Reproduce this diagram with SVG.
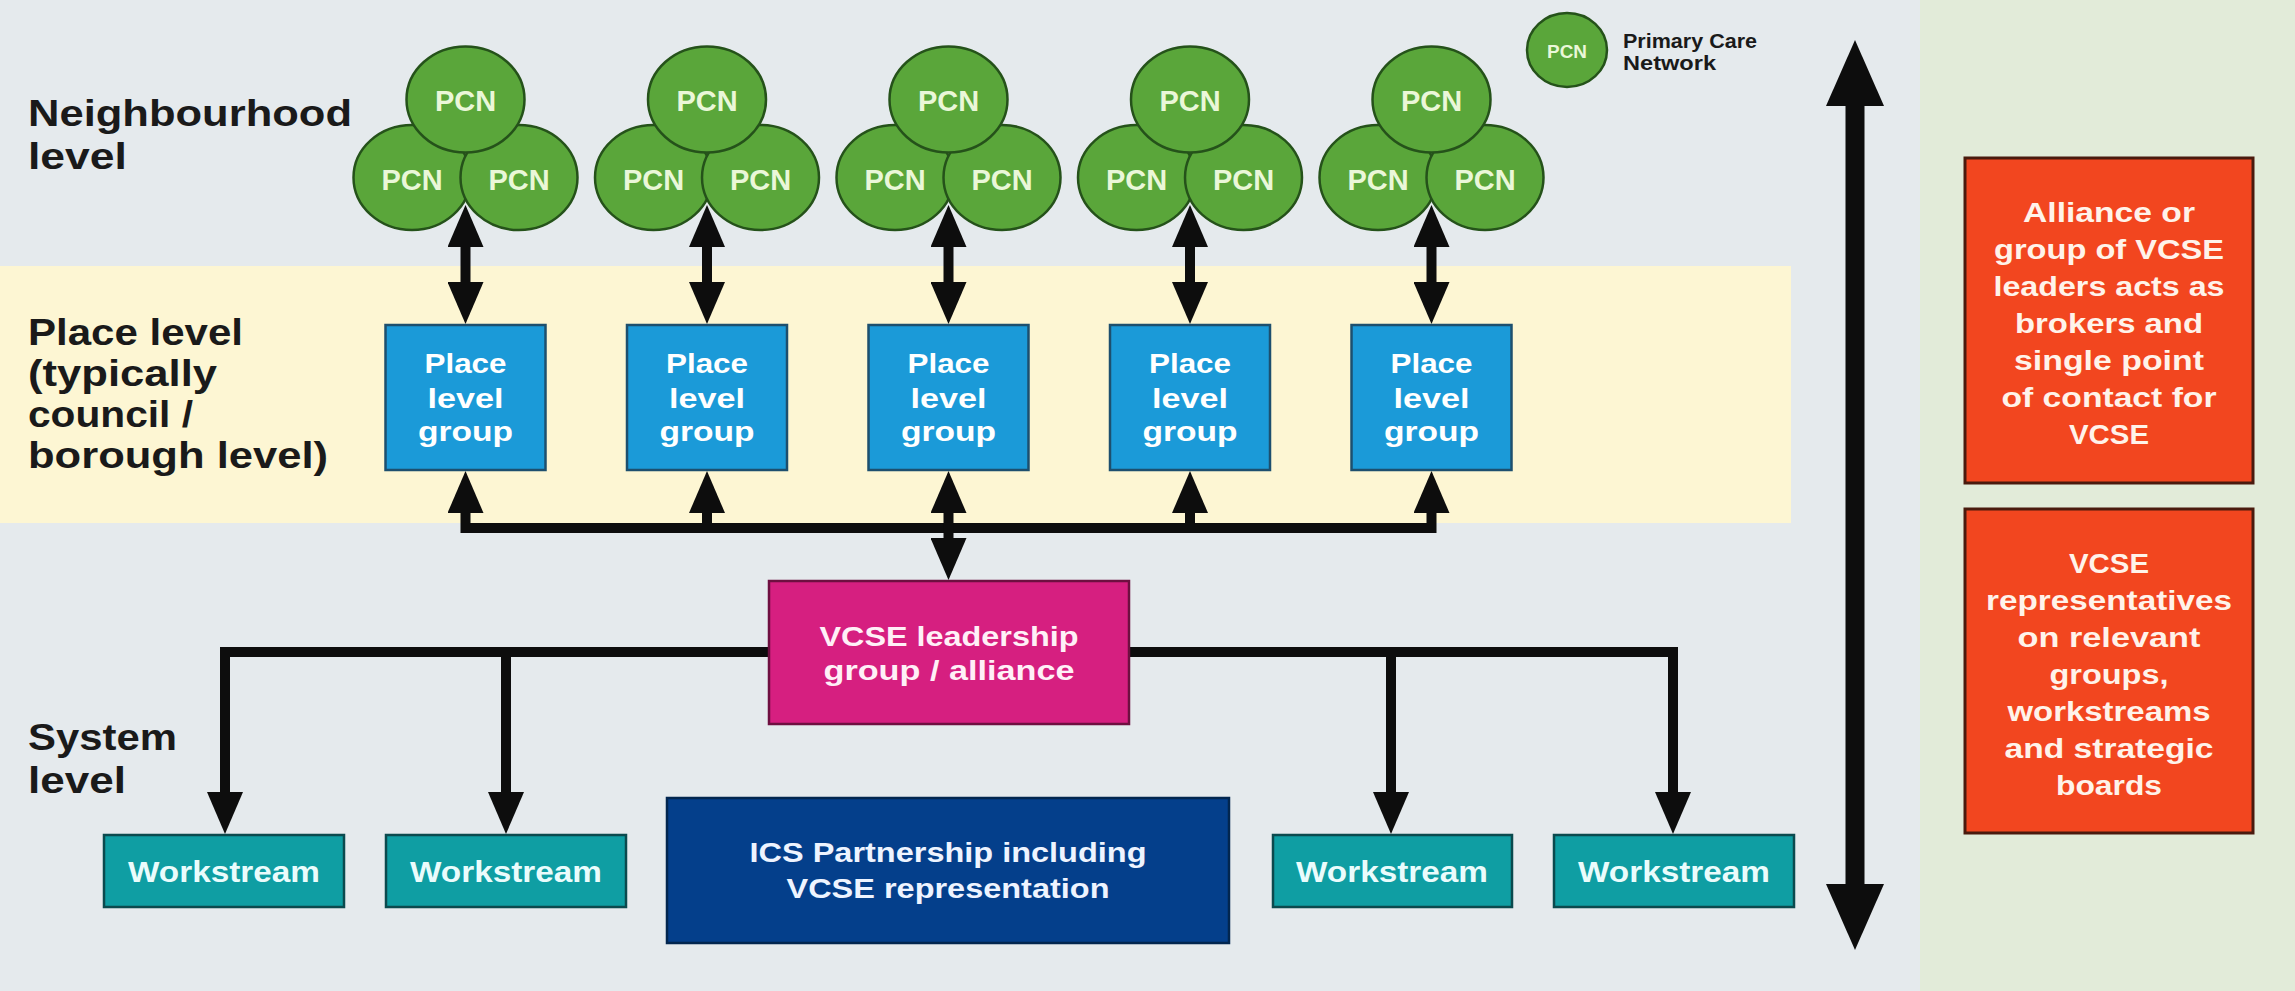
<svg xmlns="http://www.w3.org/2000/svg" width="2295" height="991" viewBox="0 0 2295 991">
<style>
text{font-family:"Liberation Sans",Arial,sans-serif;font-weight:bold}
.lbl{font-size:36px;fill:#1a1a1a}
.pcn ellipse{fill:#5aa63a;stroke:#25521a;stroke-width:2.5}
.pcn text{font-size:29px;fill:#eaf7d8;text-anchor:middle}
.place rect{fill:#1b9ad8;stroke:#1d4f6e;stroke-width:2.5}
.place text{font-size:28px;fill:#ffffff;text-anchor:middle}
.ws rect{fill:#0f9ea3;stroke:#0b4a4e;stroke-width:2.5}
.ws text{font-size:30px;fill:#eafcfc;text-anchor:middle}
.orange rect{fill:#f2461f;stroke:#4a1a0e;stroke-width:3}
.orange text{font-size:27px;fill:#fff3ea;text-anchor:middle}
.conn{fill:none;stroke:#0d0d0d;stroke-width:10;stroke-linejoin:miter}
</style>
<defs>
<marker id="ah" viewBox="0 0 42 36" refX="1" refY="18" markerWidth="42" markerHeight="36" markerUnits="userSpaceOnUse" orient="auto-start-reverse"><path d="M0,0 L42,18 L0,36 z" fill="#0d0d0d"/></marker>
<marker id="ahBig" viewBox="0 0 66 58" refX="1" refY="29" markerWidth="66" markerHeight="58" markerUnits="userSpaceOnUse" orient="auto-start-reverse"><path d="M0,0 L66,29 L0,58 z" fill="#0d0d0d"/></marker>
</defs>
<g id="background">
<rect x="0" y="0" width="2295" height="991" fill="#e5eaed"/>
<rect x="1920" y="0" width="375" height="991" fill="#e2ebd9"/>
<rect x="0" y="266" width="1791" height="257" fill="#fdf6d3"/>
</g>
<g id="level-labels">
<text class="lbl" x="28" y="126" textLength="324" lengthAdjust="spacingAndGlyphs">Neighbourhood</text>
<text class="lbl" x="28" y="169" textLength="99" lengthAdjust="spacingAndGlyphs">level</text>
<text class="lbl" x="28" y="345" textLength="215" lengthAdjust="spacingAndGlyphs">Place level</text>
<text class="lbl" x="28" y="386" textLength="189" lengthAdjust="spacingAndGlyphs">(typically</text>
<text class="lbl" x="28" y="427" textLength="165" lengthAdjust="spacingAndGlyphs">council /</text>
<text class="lbl" x="28" y="468" textLength="300" lengthAdjust="spacingAndGlyphs">borough level)</text>
<text class="lbl" x="28" y="750" textLength="149" lengthAdjust="spacingAndGlyphs">System</text>
<text class="lbl" x="28" y="793" textLength="98" lengthAdjust="spacingAndGlyphs">level</text>
</g>
<g id="legend" class="pcn">
<ellipse cx="1567" cy="50" rx="40" ry="37"/>
<text x="1567" y="58" style="font-size:18px" textLength="40" lengthAdjust="spacingAndGlyphs">PCN</text>
<text x="1623" y="48" style="font-size:21px;fill:#1a1a1a;text-anchor:start" textLength="134" lengthAdjust="spacingAndGlyphs">Primary Care</text>
<text x="1623" y="70" style="font-size:21px;fill:#1a1a1a;text-anchor:start" textLength="93" lengthAdjust="spacingAndGlyphs">Network</text>
</g>
<g id="pcn-cluster-1" class="pcn">
<ellipse cx="412" cy="177.5" rx="58.5" ry="52.5"/><text x="412" y="190">PCN</text>
<ellipse cx="519" cy="177.5" rx="58.5" ry="52.5"/><text x="519" y="190">PCN</text>
<ellipse cx="465.5" cy="99.5" rx="59" ry="53"/><text x="465.5" y="110.5">PCN</text>
</g>
<g id="pcn-cluster-2" class="pcn">
<ellipse cx="653.5" cy="177.5" rx="58.5" ry="52.5"/><text x="653.5" y="190">PCN</text>
<ellipse cx="760.5" cy="177.5" rx="58.5" ry="52.5"/><text x="760.5" y="190">PCN</text>
<ellipse cx="707" cy="99.5" rx="59" ry="53"/><text x="707" y="110.5">PCN</text>
</g>
<g id="pcn-cluster-3" class="pcn">
<ellipse cx="895" cy="177.5" rx="58.5" ry="52.5"/><text x="895" y="190">PCN</text>
<ellipse cx="1002" cy="177.5" rx="58.5" ry="52.5"/><text x="1002" y="190">PCN</text>
<ellipse cx="948.5" cy="99.5" rx="59" ry="53"/><text x="948.5" y="110.5">PCN</text>
</g>
<g id="pcn-cluster-4" class="pcn">
<ellipse cx="1136.5" cy="177.5" rx="58.5" ry="52.5"/><text x="1136.5" y="190">PCN</text>
<ellipse cx="1243.5" cy="177.5" rx="58.5" ry="52.5"/><text x="1243.5" y="190">PCN</text>
<ellipse cx="1190" cy="99.5" rx="59" ry="53"/><text x="1190" y="110.5">PCN</text>
</g>
<g id="pcn-cluster-5" class="pcn">
<ellipse cx="1378" cy="177.5" rx="58.5" ry="52.5"/><text x="1378" y="190">PCN</text>
<ellipse cx="1485" cy="177.5" rx="58.5" ry="52.5"/><text x="1485" y="190">PCN</text>
<ellipse cx="1431.5" cy="99.5" rx="59" ry="53"/><text x="1431.5" y="110.5">PCN</text>
</g>
<g id="connectors">
<line class="conn" x1="465.5" y1="246" x2="465.5" y2="283" marker-start="url(#ah)" marker-end="url(#ah)"/>
<line class="conn" x1="707" y1="246" x2="707" y2="283" marker-start="url(#ah)" marker-end="url(#ah)"/>
<line class="conn" x1="948.5" y1="246" x2="948.5" y2="283" marker-start="url(#ah)" marker-end="url(#ah)"/>
<line class="conn" x1="1190" y1="246" x2="1190" y2="283" marker-start="url(#ah)" marker-end="url(#ah)"/>
<line class="conn" x1="1431.5" y1="246" x2="1431.5" y2="283" marker-start="url(#ah)" marker-end="url(#ah)"/>
<path class="conn" d="M465.5,512 V528 H1431.5 V512" marker-start="url(#ah)" marker-end="url(#ah)"/>
<line class="conn" x1="707" y1="528" x2="707" y2="512" marker-end="url(#ah)"/>
<line class="conn" x1="1190" y1="528" x2="1190" y2="512" marker-end="url(#ah)"/>
<line class="conn" x1="948.5" y1="512" x2="948.5" y2="539" marker-start="url(#ah)" marker-end="url(#ah)"/>
<path class="conn" d="M225,793 V652 H1673 V793" marker-start="url(#ah)" marker-end="url(#ah)"/>
<line class="conn" x1="506" y1="652" x2="506" y2="793" marker-end="url(#ah)"/>
<line class="conn" x1="1391" y1="652" x2="1391" y2="793" marker-end="url(#ah)"/>
<line class="conn" style="stroke-width:19" x1="1855" y1="105" x2="1855" y2="885" marker-start="url(#ahBig)" marker-end="url(#ahBig)"/>
</g>
<g id="place-1" class="place"><rect x="385.5" y="325" width="160" height="145"/><text x="465.5" y="373" textLength="82" lengthAdjust="spacingAndGlyphs">Place</text><text x="465.5" y="408" textLength="76" lengthAdjust="spacingAndGlyphs">level</text><text x="465.5" y="441" textLength="95" lengthAdjust="spacingAndGlyphs">group</text></g>
<g id="place-2" class="place"><rect x="627" y="325" width="160" height="145"/><text x="707" y="373" textLength="82" lengthAdjust="spacingAndGlyphs">Place</text><text x="707" y="408" textLength="76" lengthAdjust="spacingAndGlyphs">level</text><text x="707" y="441" textLength="95" lengthAdjust="spacingAndGlyphs">group</text></g>
<g id="place-3" class="place"><rect x="868.5" y="325" width="160" height="145"/><text x="948.5" y="373" textLength="82" lengthAdjust="spacingAndGlyphs">Place</text><text x="948.5" y="408" textLength="76" lengthAdjust="spacingAndGlyphs">level</text><text x="948.5" y="441" textLength="95" lengthAdjust="spacingAndGlyphs">group</text></g>
<g id="place-4" class="place"><rect x="1110" y="325" width="160" height="145"/><text x="1190" y="373" textLength="82" lengthAdjust="spacingAndGlyphs">Place</text><text x="1190" y="408" textLength="76" lengthAdjust="spacingAndGlyphs">level</text><text x="1190" y="441" textLength="95" lengthAdjust="spacingAndGlyphs">group</text></g>
<g id="place-5" class="place"><rect x="1351.5" y="325" width="160" height="145"/><text x="1431.5" y="373" textLength="82" lengthAdjust="spacingAndGlyphs">Place</text><text x="1431.5" y="408" textLength="76" lengthAdjust="spacingAndGlyphs">level</text><text x="1431.5" y="441" textLength="95" lengthAdjust="spacingAndGlyphs">group</text></g>
<g id="vcse-leadership">
<rect x="769" y="581" width="360" height="143" fill="#d61f80" stroke="#6e0f40" stroke-width="2.5"/>
<text x="949" y="646" style="font-size:28px;fill:#fff0f7;text-anchor:middle" textLength="259" lengthAdjust="spacingAndGlyphs">VCSE leadership</text>
<text x="949" y="680" style="font-size:28px;fill:#fff0f7;text-anchor:middle" textLength="251" lengthAdjust="spacingAndGlyphs">group / alliance</text>
</g>
<g id="ics-partnership">
<rect x="667" y="798" width="562" height="145" fill="#043f8b" stroke="#02264f" stroke-width="2.5"/>
<text x="948" y="862" style="font-size:28px;fill:#eef4ff;text-anchor:middle" textLength="397" lengthAdjust="spacingAndGlyphs">ICS Partnership including</text>
<text x="948" y="898" style="font-size:28px;fill:#eef4ff;text-anchor:middle" textLength="323" lengthAdjust="spacingAndGlyphs">VCSE representation</text>
</g>
<g id="workstream-1" class="ws"><rect x="104" y="835" width="240" height="72"/><text x="224" y="882" textLength="192" lengthAdjust="spacingAndGlyphs">Workstream</text></g>
<g id="workstream-2" class="ws"><rect x="386" y="835" width="240" height="72"/><text x="506" y="882" textLength="192" lengthAdjust="spacingAndGlyphs">Workstream</text></g>
<g id="workstream-3" class="ws"><rect x="1273" y="835" width="239" height="72"/><text x="1392" y="882" textLength="192" lengthAdjust="spacingAndGlyphs">Workstream</text></g>
<g id="workstream-4" class="ws"><rect x="1554" y="835" width="240" height="72"/><text x="1674" y="882" textLength="192" lengthAdjust="spacingAndGlyphs">Workstream</text></g>
<g id="alliance-box" class="orange">
<rect x="1965" y="158" width="288" height="325"/>
<text x="2109" y="222" textLength="172" lengthAdjust="spacingAndGlyphs">Alliance or</text>
<text x="2109" y="259" textLength="230" lengthAdjust="spacingAndGlyphs">group of VCSE</text>
<text x="2109" y="296" textLength="231" lengthAdjust="spacingAndGlyphs">leaders acts as</text>
<text x="2109" y="333" textLength="188" lengthAdjust="spacingAndGlyphs">brokers and</text>
<text x="2109" y="370" textLength="190" lengthAdjust="spacingAndGlyphs">single point</text>
<text x="2109" y="407" textLength="215" lengthAdjust="spacingAndGlyphs">of contact for</text>
<text x="2109" y="444" textLength="80" lengthAdjust="spacingAndGlyphs">VCSE</text>
</g>
<g id="representatives-box" class="orange">
<rect x="1965" y="509" width="288" height="324"/>
<text x="2109" y="573" textLength="80" lengthAdjust="spacingAndGlyphs">VCSE</text>
<text x="2109" y="610" textLength="246" lengthAdjust="spacingAndGlyphs">representatives</text>
<text x="2109" y="647" textLength="183" lengthAdjust="spacingAndGlyphs">on relevant</text>
<text x="2109" y="684" textLength="119" lengthAdjust="spacingAndGlyphs">groups,</text>
<text x="2109" y="721" textLength="203" lengthAdjust="spacingAndGlyphs">workstreams</text>
<text x="2109" y="758" textLength="209" lengthAdjust="spacingAndGlyphs">and strategic</text>
<text x="2109" y="795" textLength="106" lengthAdjust="spacingAndGlyphs">boards</text>
</g>
</svg>
